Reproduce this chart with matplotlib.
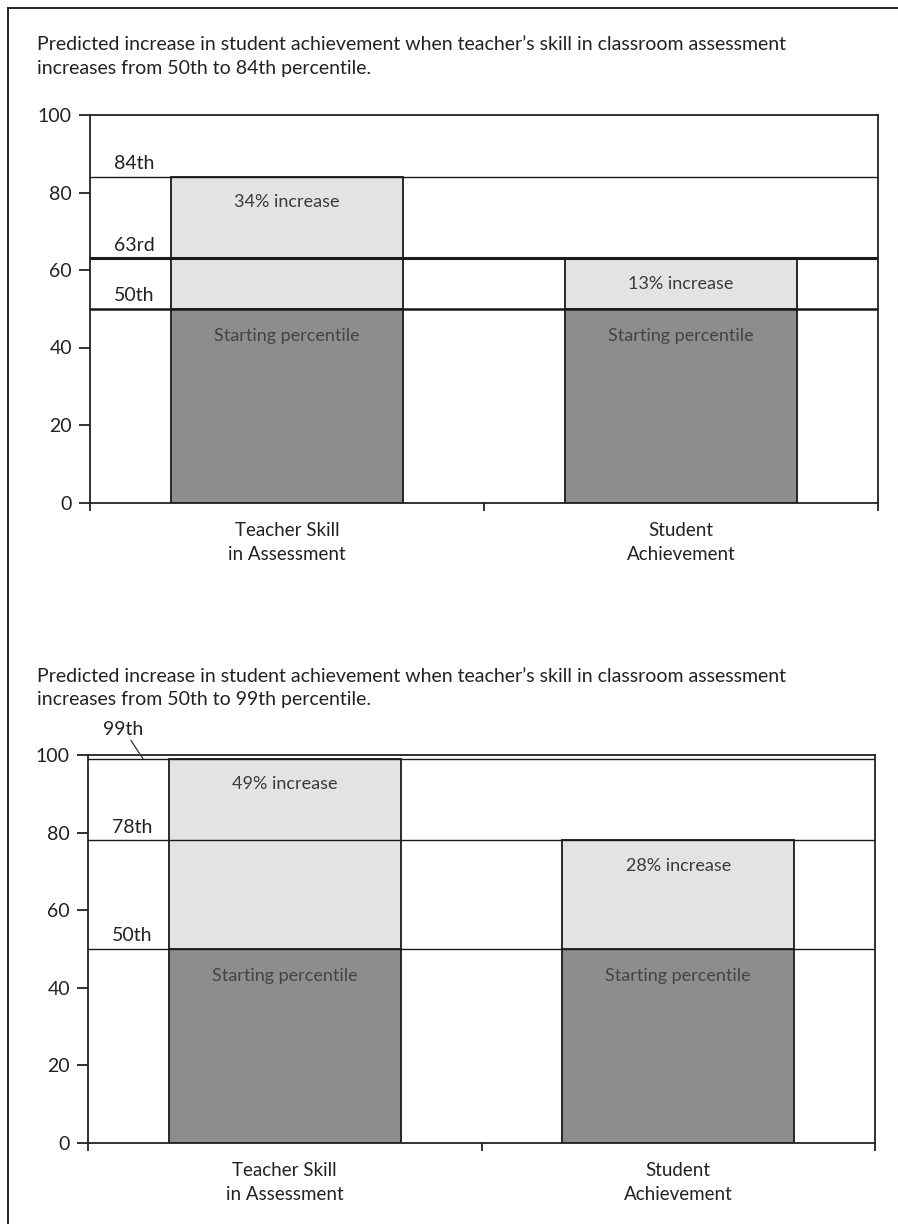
import matplotlib
matplotlib.use("Agg")
import matplotlib.pyplot as plt
from matplotlib.lines import Line2D

plt.rcParams['font.family'] = ['Lato', 'DejaVu Sans']

# ---- data -------------------------------------------------------------
categories = ["Teacher Skill\nin Assessment", "Student\nAchievement"]
start_pct = [50, 50]

top_titles = [
    "Predicted increase in student achievement when teacher\u2019s skill in classroom assessment\nincreases from 50th to 84th percentile.",
    "Predicted increase in student achievement when teacher\u2019s skill in classroom assessment\nincreases from 50th to 99th percentile.",
]
end_pct_1 = [84, 63]
end_pct_2 = [99, 78]
increase_labels_1 = ["34% increase", "13% increase"]
increase_labels_2 = ["49% increase", "28% increase"]
ref_lines_1 = [84, 63, 50]
ref_labels_1 = ["84th", "63rd", "50th"]
ref_lines_2 = [99, 78, 50]
ref_labels_2 = ["99th", "78th", "50th"]
yticks = [0, 20, 40, 60, 80, 100]

DARK = "#8f8c8f"
LIGHT = "#e3e3e3"
EDGE = "#1a1a1a"

W, H = 898, 1224
fig = plt.figure(figsize=(W / 100, H / 100), dpi=100)
fig.patch.set_facecolor("white")

# Page frame (left and top edges)
fig.add_artist(Line2D([8 / W, 8 / W], [0, 1 - 8 / H], transform=fig.transFigure,
                      color="#222", lw=1.4))
fig.add_artist(Line2D([8 / W, 1], [1 - 8 / H, 1 - 8 / H], transform=fig.transFigure,
                      color="#222", lw=1.4))


def px_box(left, right, top, bottom):
    return [left / W, 1 - bottom / H, (right - left) / W, (bottom - top) / H]


def draw_panel(ax, ends, inc_labels, lines, line_labels, line_widths, arrow_top=False):
    x = [0, 1]
    bw = 0.59
    ax.bar(x, start_pct, width=bw, color=DARK, edgecolor=EDGE, linewidth=1.3, zorder=2)
    incs = [e - s for e, s in zip(ends, start_pct)]
    ax.bar(x, incs, bottom=start_pct, width=bw, color=LIGHT, edgecolor=EDGE,
           linewidth=1.3, zorder=2)

    for v, lw in zip(lines, line_widths):
        ax.axhline(v, color=EDGE, lw=lw, zorder=3)

    for i in x:
        ax.text(i, ends[i] - 6.5, inc_labels[i], ha="center", va="center",
                fontsize=13, color="#3a3a3a", zorder=4)
        ax.text(i, start_pct[i] - 7, "Starting percentile", ha="center", va="center",
                fontsize=13, color="#444", zorder=4)

    for k, (v, lab) in enumerate(zip(lines, line_labels)):
        if arrow_top and k == 0:
            ax.annotate(lab, xy=(-0.36, v), xytext=(-0.41, v + 5.5),
                        ha="center", va="bottom", fontsize=14, color="#222",
                        arrowprops=dict(arrowstyle="-", color="#333", lw=0.9,
                                        shrinkA=0, shrinkB=0),
                        annotation_clip=False)
        else:
            ax.text(-0.44, v + 1.2, lab, ha="left", va="bottom", fontsize=14,
                    color="#222", zorder=4)

    ax.set_xlim(-0.5, 1.5)
    ax.set_ylim(0, 100)
    ax.set_yticks(yticks)
    ax.set_yticklabels([str(t) for t in yticks], fontsize=14, color="#222")
    ax.set_xticks([-0.5, 0.5, 1.5])
    ax.set_xticklabels([])
    ax.tick_params(axis="y", direction="out", length=8, width=1.3, color="#222", pad=5)
    ax.tick_params(axis="x", direction="out", length=6, width=1.3, color="#222")
    for s in ax.spines.values():
        s.set_color("#222")
        s.set_linewidth(1.3)
    ax.set_facecolor("white")
    for i, c in enumerate(categories):
        ax.text(i, -5.0, c, ha="center", va="top", fontsize=13.5, color="#222",
                linespacing=1.5)


ax1 = fig.add_axes(px_box(90, 878, 115, 502.5))
draw_panel(ax1, end_pct_1, increase_labels_1, ref_lines_1, ref_labels_1, [1.0, 2.2, 1.8])
fig.text(37 / W, 1 - 36 / H, top_titles[0], ha="left", va="top", fontsize=14,
         color="#222", linespacing=1.5)

ax2 = fig.add_axes(px_box(88, 875, 755, 1143))
draw_panel(ax2, end_pct_2, increase_labels_2, ref_lines_2, ref_labels_2, [1.0, 1.0, 1.0],
           arrow_top=True)
fig.text(37 / W, 1 - 668 / H, top_titles[1], ha="left", va="top", fontsize=14,
         color="#222", linespacing=1.45)

fig.savefig("out.png", dpi=100, facecolor="white")
